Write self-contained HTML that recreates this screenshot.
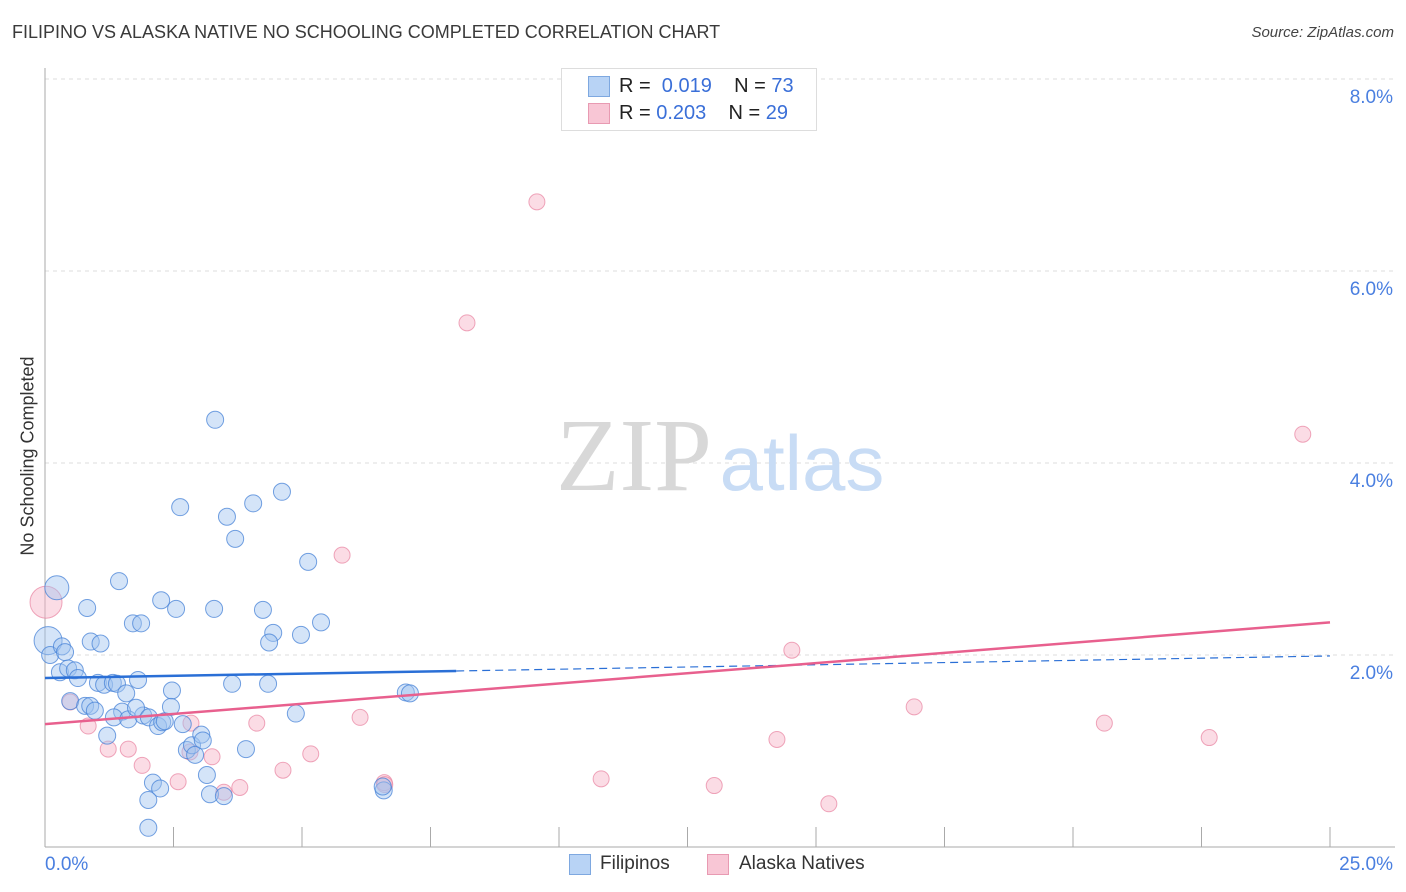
<!DOCTYPE html>
<html><head><meta charset="utf-8">
<style>
body{margin:0;background:#fff;font-family:"Liberation Sans",sans-serif;}
#wrap{position:relative;width:1406px;height:892px;overflow:hidden;}
.t{position:absolute;white-space:nowrap;}
</style></head>
<body>
<div id="wrap">
<div class="t" style="left:12px;top:22px;font-size:18px;color:#3a3a3a;">FILIPINO VS ALASKA NATIVE NO SCHOOLING COMPLETED CORRELATION CHART</div>
<div class="t" style="right:12px;top:24px;font-size:15px;color:#444;font-style:italic;">Source: ZipAtlas.com</div>
<div class="t" style="left:28px;top:456px;font-size:18px;color:#333;transform:translate(-50%,-50%) rotate(-90deg);">No Schooling Completed</div>
<svg id="plot" width="1406" height="892" style="position:absolute;left:0;top:0;"></svg>
<div style="position:absolute;left:561px;top:68px;width:254px;height:61px;border:1px solid #ddd;background:#fff;">
  <div style="position:absolute;left:26px;top:7px;width:20px;height:19px;background:#b8d3f5;border:1px solid #7ea8e0;"></div>
  <div class="t" style="left:57px;top:6px;font-size:20px;color:#222;">R = &nbsp;<span style="color:#3a6fd8">0.019</span>&nbsp;&nbsp;&nbsp; N = <span style="color:#3a6fd8">73</span></div>
  <div style="position:absolute;left:26px;top:34px;width:20px;height:19px;background:#f8c6d5;border:1px solid #e89ab2;"></div>
  <div class="t" style="left:57px;top:33px;font-size:20px;color:#222;">R = <span style="color:#3a6fd8">0.203</span>&nbsp;&nbsp;&nbsp; N = <span style="color:#3a6fd8">29</span></div>
</div>
<div>
  <div style="position:absolute;left:569px;top:854px;width:20px;height:19px;background:#b8d3f5;border:1px solid #7ea8e0;"></div>
  <div class="t" style="left:600px;top:853px;font-size:19px;color:#333;">Filipinos</div>
  <div style="position:absolute;left:707px;top:854px;width:20px;height:19px;background:#f8c6d5;border:1px solid #e89ab2;"></div>
  <div class="t" style="left:739px;top:853px;font-size:19px;color:#333;">Alaska Natives</div>
</div>
</div>
<script>
const xTicks=[0,2.5,5,7.5,10,12.5,15,17.5,20,22.5,25];
const yTicks=[2,4,6,8];
const yTickLabels=["2.0%","4.0%","6.0%","8.0%"];
const xEndLabels=["0.0%","25.0%"];
const filX=[0.23,0.06,0.1,0.33,0.39,0.29,0.45,0.58,0.64,0.82,0.89,1.08,1.44,1.71,1.87,2.26,2.55,2.63,3.31,3.54,3.70,4.05,4.61,5.12,3.29,4.24,4.44,4.36,4.98,5.37,0.49,0.78,0.88,0.97,1.03,1.15,1.32,1.40,1.58,1.81,1.50,1.34,1.62,1.91,1.77,2.02,2.20,2.28,2.33,2.47,2.45,2.68,2.76,2.86,2.92,3.04,3.07,3.15,2.10,2.24,2.01,2.01,3.21,3.48,3.91,4.34,3.64,4.88,7.02,7.10,6.59,6.57,1.21];
const filY=[2.70,2.15,2.0,2.09,2.03,1.82,1.86,1.84,1.76,2.49,2.14,2.12,2.77,2.33,2.33,2.57,2.48,3.54,4.45,3.44,3.21,3.58,3.70,2.97,2.48,2.47,2.23,2.13,2.21,2.34,1.52,1.47,1.47,1.42,1.71,1.69,1.71,1.70,1.60,1.74,1.41,1.35,1.33,1.37,1.45,1.35,1.26,1.30,1.31,1.63,1.46,1.28,1.01,1.06,0.96,1.17,1.11,0.75,0.67,0.61,0.49,0.20,0.55,0.53,1.02,1.70,1.70,1.39,1.61,1.60,0.59,0.63,1.16];
const akX=[0.02,9.57,8.21,24.47,5.78,14.53,0.49,0.84,1.23,1.62,1.89,2.59,2.84,2.82,3.25,3.48,3.79,4.12,4.63,5.17,6.13,6.60,6.61,10.82,13.02,14.24,15.25,16.91,20.61,22.65];
const akY=[2.55,6.72,5.46,4.30,3.04,2.05,1.51,1.26,1.02,1.02,0.85,0.68,1.29,0.99,0.94,0.57,0.62,1.29,0.80,0.97,1.35,0.67,0.65,0.71,0.64,1.12,0.45,1.46,1.29,1.14];
const akR=[16];
const blueTrend=[1.76,1.99];
const pinkTrend=[1.28,2.34];
const NS="http://www.w3.org/2000/svg";
const svg=document.getElementById('plot');
const X0=45,X1=1330,Y0=847,PXY=96;
const sx=v=>X0+(v/25)*(X1-X0);
const sy=v=>Y0-v*PXY;
function mk(tag,attrs){const e=document.createElementNS(NS,tag);for(const k in attrs)e.setAttribute(k,attrs[k]);svg.appendChild(e);return e;}
yTicks.forEach((t,i)=>{
  const g=mk('line',{x1:X0,x2:1395,y1:sy(t),y2:sy(t),stroke:'#ddd','stroke-dasharray':'4,4'});
  
  
  const tx=mk('text',{x:1393,y:sy(t)+24,'text-anchor':'end','font-size':19,fill:'#4a7fe0','font-family':'Liberation Sans, sans-serif'});
  tx.textContent=yTickLabels[i];
  
  
});
const ax=mk('line',{x1:X0,x2:X0,y1:68,y2:Y0,stroke:'#aaa'});


const bx=mk('line',{x1:X0,x2:1395,y1:Y0,y2:Y0,stroke:'#aaa'});


xTicks.forEach(t=>{
  const l=mk('line',{x1:sx(t),x2:sx(t),y1:Y0,y2:827,stroke:'#aaa'});
  
  
});
[[0,'start',xEndLabels[0]],[25,'end',xEndLabels[1]]].forEach(([v,a,s])=>{
  const tx=mk('text',{x:v===0?45:1393,y:870,'text-anchor':a,'font-size':19,fill:'#4a7fe0','font-family':'Liberation Sans, sans-serif'});
  tx.textContent=s;
  
  
});
const w1=mk('text',{x:634,y:490,'text-anchor':'middle','font-size':104,fill:'#d8d8d8','font-family':'Liberation Serif, serif'});
w1.textContent='ZIP';


const w2=mk('text',{x:802,y:490,'text-anchor':'middle','font-size':78,fill:'#c8dcf5','font-family':'Liberation Sans, sans-serif'});
w2.textContent='atlas';


akX.forEach((v,i)=>{
  const c=mk('circle',{cx:sx(v),cy:sy(akY[i]),r:i===0?akR[0]:8,fill:'rgba(246,178,198,0.45)',stroke:'rgba(232,130,160,0.7)','stroke-width':1});
  
  
});
filX.forEach((v,i)=>{
  const r=i===0?12:(i===1?14:8.5);
  const c=mk('circle',{cx:sx(v),cy:sy(filY[i]),r:r,fill:'rgba(160,196,240,0.45)',stroke:'rgba(70,130,215,0.75)','stroke-width':1});
  
  
});
const bSplit=8;
const bMid=blueTrend[0]+(blueTrend[1]-blueTrend[0])*bSplit/25;
const bl=mk('line',{x1:sx(0),y1:sy(blueTrend[0]),x2:sx(bSplit),y2:sy(bMid),stroke:'#2a6fd6','stroke-width':2.5});


const bd=mk('line',{x1:sx(bSplit),y1:sy(bMid),x2:sx(25),y2:sy(blueTrend[1]),stroke:'#2a6fd6','stroke-width':1.2,'stroke-dasharray':'8,5'});


const pl=mk('line',{x1:sx(0),y1:sy(pinkTrend[0]),x2:sx(25),y2:sy(pinkTrend[1]),stroke:'#e8608e','stroke-width':2.5});


</script>
</body></html>
